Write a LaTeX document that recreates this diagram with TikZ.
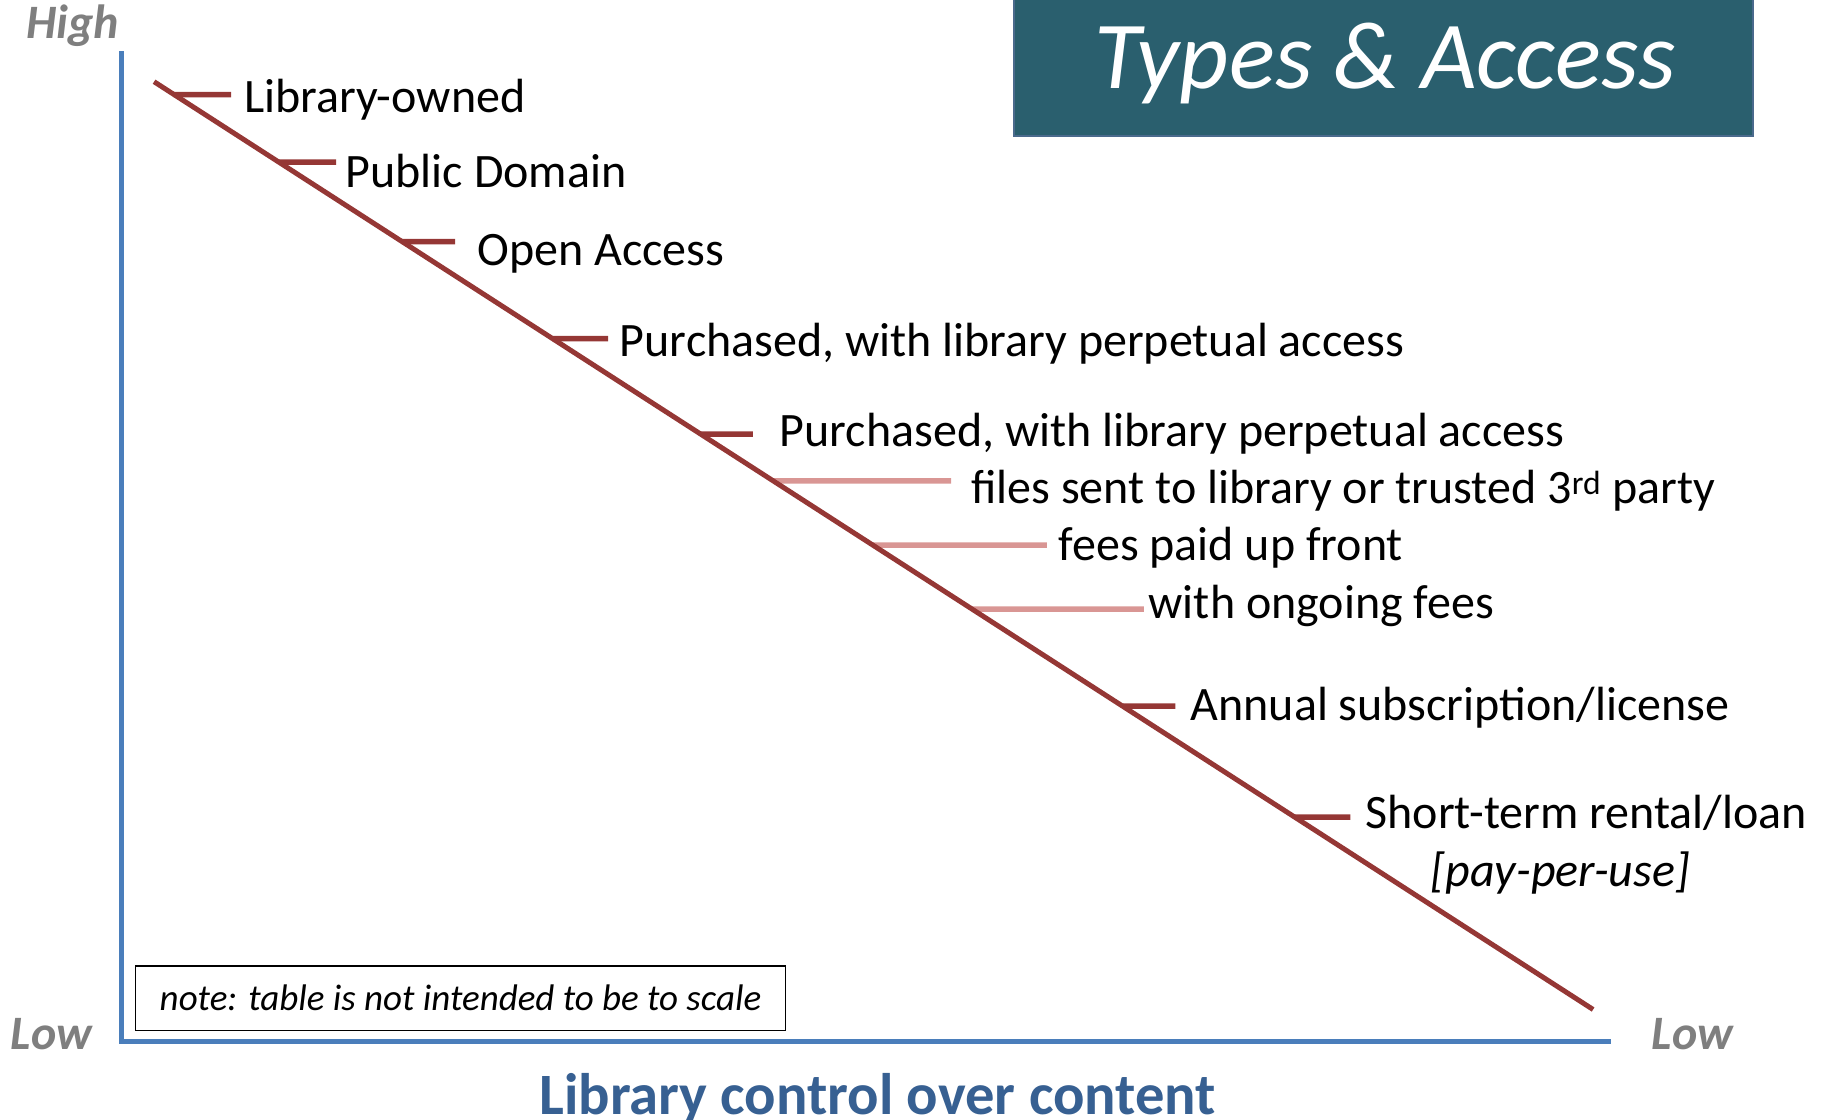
\documentclass[tikz,border=0pt]{standalone}
\usepackage{fontspec}
\setmainfont{Carlito}
\usetikzlibrary{calc}
\definecolor{axisblue}{HTML}{4A7EBB}
\definecolor{linered}{HTML}{953735}
\definecolor{linepink}{HTML}{D99694}
\definecolor{titlefill}{HTML}{2A5F6E}
\definecolor{titleedge}{HTML}{4A6A8C}
\definecolor{axisgray}{HTML}{7F7F7F}
\definecolor{captionblue}{HTML}{376092}
\newcommand{\lblsize}{\fontsize{48}{58}\selectfont}
\begin{document}
\begin{tikzpicture}[x=1pt,y=-1pt,
  axisline/.style={draw=axisblue, line width=4.5pt},
  scaleline/.style={draw=linered, line width=5pt},
  tickmark/.style={line width=5.5pt},
  lbl/.style={anchor=mid west, inner sep=0pt, font=\lblsize},
  endlbl/.style={inner sep=0pt, text=axisgray, font=\fontsize{48}{58}\selectfont\bfseries\itshape},
]
\useasboundingbox (0,0) rectangle (1830,1119);

% title banner
\node[draw=titleedge, fill=titlefill, line width=2pt, minimum width=739pt, minimum height=140pt,
      inner sep=0pt] (banner) at (1383.6,66) {};
\node[inner sep=0pt, text=white, font=\fontsize{96}{115}\selectfont\itshape] (title) at (1385,63) {Types \& Access};

% axes
\coordinate (ytop) at (121.4,51.4);
\coordinate (origin) at (121.4,1041.5);
\coordinate (xend) at (1610.6,1041.5);
\draw[axisline] (ytop) -- (origin) -- (xend);

\node[endlbl] (high) at (72.4,25.7) {High};
\node[endlbl] (lowy) at (51.4,1034) {Low};
\node[endlbl] (lowx) at (1692.3,1034) {Low};
\node[inner sep=0pt, text=captionblue, font=\fontsize{58.6}{70}\selectfont\bfseries] (caption) at (877.7,1098.5)
  {Library control over content};

% descending scale and its ticks
\coordinate (dtop) at (154.1,81.7);
\coordinate (dbot) at (1593.1,1009.5);
\foreach \n/\ty/\tx/\c in {lo/94.5/231.1/linered, pd/162.2/336.1/linered, oa/241.6/455.2/linered,
    pa/338.5/608.1/linered, pb/434.2/752.8/linered, fs/480.8/951.2/linepink,
    fp/545.0/1046.9/linepink, og/609.2/1143.8/linepink, an/706.1/1175.3/linered,
    st/817.0/1350.3/linered} {
  \coordinate (t\n) at ($(dtop)!{(\ty-81.7)/927.8}!(dbot)$);
  \coordinate (e\n) at (\tx,\ty);
  \draw[tickmark, draw=\c] (t\n) -- (e\n);
}
\draw[scaleline] (dtop) -- (dbot);

% labels
\node[lbl] (libowned) at (243.9,110) {Library-owned};
\node[lbl] (pubdom) at (345.5,185) {Public Domain};
\node[lbl] (openacc) at (477.3,263.5) {Open Access};
\node[lbl] (purcha) at (619.7,354) {Purchased, with library perpetual access};
\node[lbl] (purchb) at (779.6,444.5) {Purchased, with library perpetual access};
\node[lbl] (files) at (971.0,501.5) {files sent to library or trusted 3\textsuperscript{rd} party};
\node[lbl] (upfront) at (1058.6,558.5) {fees paid up front};
\node[lbl] (ongoing) at (1148.4,616) {with ongoing fees};
\node[lbl] (annual) at (1190.4,718.5) {Annual subscription/license};
\node[lbl] (rental) at (1365.5,826) {Short-term rental/loan};
\node[inner sep=0pt, font=\lblsize\itshape] (ppu) at (1560.4,873) {[pay-per-use]};

% note
\node[draw, line width=1.5pt, minimum width=650pt, minimum height=64.5pt, inner sep=0pt,
      font=\fontsize{37}{44}\selectfont\itshape] (note) at (460.5,998.2)
  {note: table is not intended to be to scale};
\end{tikzpicture}
\end{document}
